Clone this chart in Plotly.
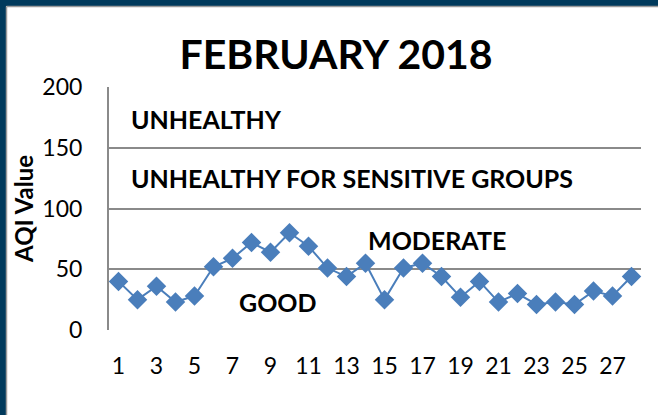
import plotly.graph_objects as go

days = list(range(1, 29))
aqi = [40, 25, 36, 23, 28, 52, 59, 72, 64, 80, 69, 51, 44, 55,
       25, 51, 55, 44, 27, 40, 23, 30, 21, 23, 21, 32, 28, 44]
tick_days = list(range(1, 28, 2))

zones = ["UNHEALTHY", "UNHEALTHY FOR SENSITIVE GROUPS", "MODERATE", "GOOD"]
zone_x = [0.038, 0.038, 0.484, 0.24]
zone_y = [174, 125, 74, 23]

W, H = 658, 415
ML, MR, MT, MB = 109, 17, 87, 85
pw, ph = W - ML - MR, H - MT - MB

def px(x):
    return (x - ML) / pw

def py(y):
    return 1 - (y - MT) / ph

blue = "#4a7ebb"
fig = go.Figure()
fig.add_trace(go.Scatter(
    x=days, y=aqi, mode="lines+markers",
    line=dict(color=blue, width=2),
    marker=dict(symbol="diamond", size=15, color=blue),
    showlegend=False, cliponaxis=False))

for t, x, y in zip(zones, zone_x, zone_y):
    fig.add_annotation(text=t, x=x, xref="paper", y=y, yref="y",
                       xanchor="left", yanchor="middle", showarrow=False,
                       font=dict(family="Lato", size=25, color="black",
                                 weight="bold"))

# dark frame on the left and top edges
frame = "#003a5c"
fig.add_shape(type="rect", xref="paper", yref="paper",
              x0=px(0), x1=px(6), y0=py(H), y1=py(0),
              fillcolor=frame, line_width=0)
fig.add_shape(type="rect", xref="paper", yref="paper",
              x0=px(0), x1=px(W), y0=py(6), y1=py(0),
              fillcolor=frame, line_width=0)
fig.add_shape(type="line", xref="paper", yref="paper",
              x0=px(6.5), x1=px(6.5), y0=py(H), y1=py(6.5),
              line=dict(color="#9a9a9a", width=1.5))
fig.add_shape(type="line", xref="paper", yref="paper",
              x0=px(6.5), x1=px(W), y0=py(6.5), y1=py(6.5),
              line=dict(color="#9a9a9a", width=1.5))

fig.update_layout(
    width=W, height=H,
    margin=dict(l=ML, r=MR, t=MT, b=MB),
    paper_bgcolor="white", plot_bgcolor="white",
    title=dict(text="<b>FEBRUARY 2018</b>", x=336 / W, xanchor="center",
               y=1 - 55 / H, yanchor="middle",
               font=dict(family="Lato", size=41, color="black")),
    xaxis=dict(range=[0.5, 28.5], tickvals=tick_days, showgrid=False,
               zeroline=False, showline=False,
               ticks="outside", ticklen=15, tickcolor="rgba(0,0,0,0)",
               tickfont=dict(family="Lato", size=23, color="black")),
    yaxis=dict(range=[0, 200], dtick=50, showgrid=True,
               gridcolor="#8a8a8a", gridwidth=2, zeroline=False,
               showline=True, linecolor="#8a8a8a", linewidth=2,
               ticks="outside", ticklen=20, tickcolor="rgba(0,0,0,0)",
               tickfont=dict(family="Lato", size=23, color="black"),
               title=dict(text="<b>AQI Value</b>", standoff=2,
                          font=dict(family="Lato", size=24, color="black"))),
)

fig.write_html("out.html", config={"displayModeBar": False},
               post_script="document.body.style.margin='0';")
